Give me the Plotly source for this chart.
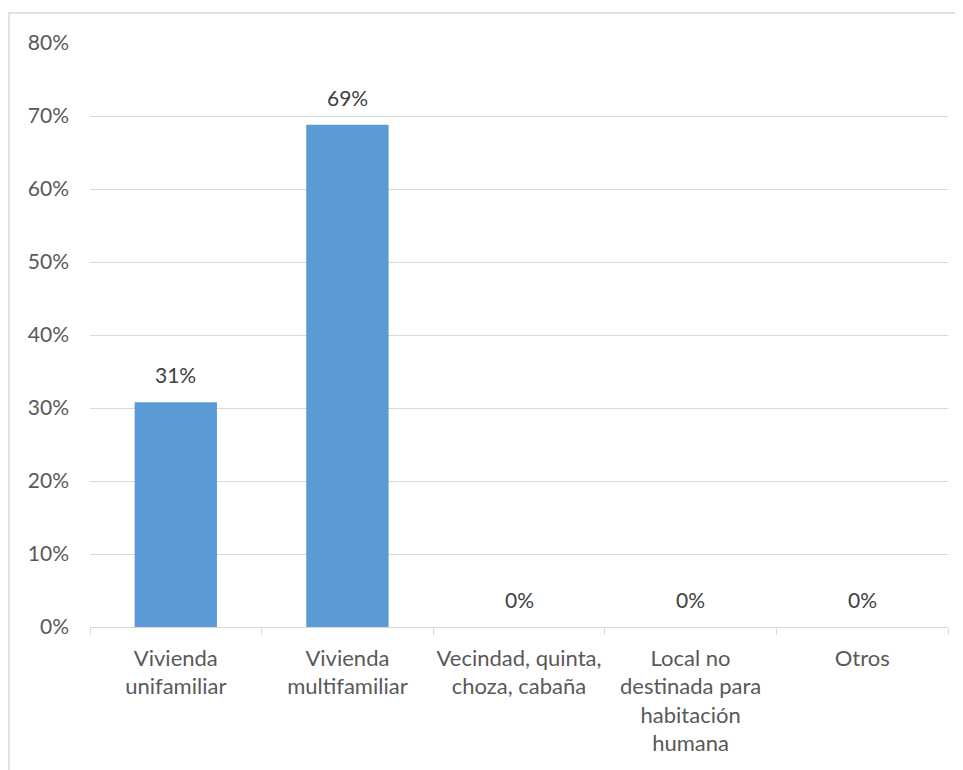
import plotly.graph_objects as go

categories = ["Vivienda<br>unifamiliar", "Vivienda<br>multifamiliar",
              "Vecindad, quinta,<br>choza, cabaña",
              "Local no<br>destinada para<br>habitación<br>humana", "Otros"]
values = [0.308, 0.688, 0.0, 0.0, 0.0]
tick_vals = [0, 0.1, 0.2, 0.3, 0.4, 0.5, 0.6, 0.7, 0.8]
tick_text = ["0%", "10%", "20%", "30%", "40%", "50%", "60%", "70%", "80%"]

FONT = "Lato, Open Sans, sans-serif"
fig = go.Figure()
fig.add_trace(go.Bar(x=categories, y=values, marker_color="#5B9BD5",
                     marker_line_width=0, width=0.48, hoverinfo="skip"))

for c, v in zip(categories, values):
    fig.add_annotation(x=c, y=v, text=f"{round(v*100):.0f}%", showarrow=False,
                       yanchor="bottom", yshift=13,
                       font=dict(family=FONT, size=21, color="#404040"))

fig.update_layout(
    width=955, height=762,
    margin=dict(l=82, r=15, t=35, b=143),
    paper_bgcolor="white", plot_bgcolor="white",
    showlegend=False, bargap=0.52,
    font=dict(family=FONT, size=21, color="#595959"),
    shapes=[dict(type="rect", xref="paper", yref="paper",
                 x0=-0.0944, x1=1.2, y0=-0.5, y1=1.0514,
                 line=dict(color="#d9d9d9", width=1.5), layer="below")],
)
fig.update_yaxes(range=[0, 0.8], tickvals=tick_vals, ticktext=tick_text,
                 showgrid=True, gridcolor="#d9d9d9", gridwidth=1.3,
                 zeroline=False, showline=False, ticks="",
                 ticklabelstandoff=20, fixedrange=True)
fig.update_xaxes(showline=True, linecolor="#d9d9d9", linewidth=1.3,
                 ticks="outside", tickson="boundaries", ticklen=7,
                 tickcolor="#d9d9d9", tickwidth=1.3, showgrid=False,
                 ticklabelstandoff=11, tickangle=0, fixedrange=True,
                 tickfont=dict(size=22))

fig.write_html("out.html")
